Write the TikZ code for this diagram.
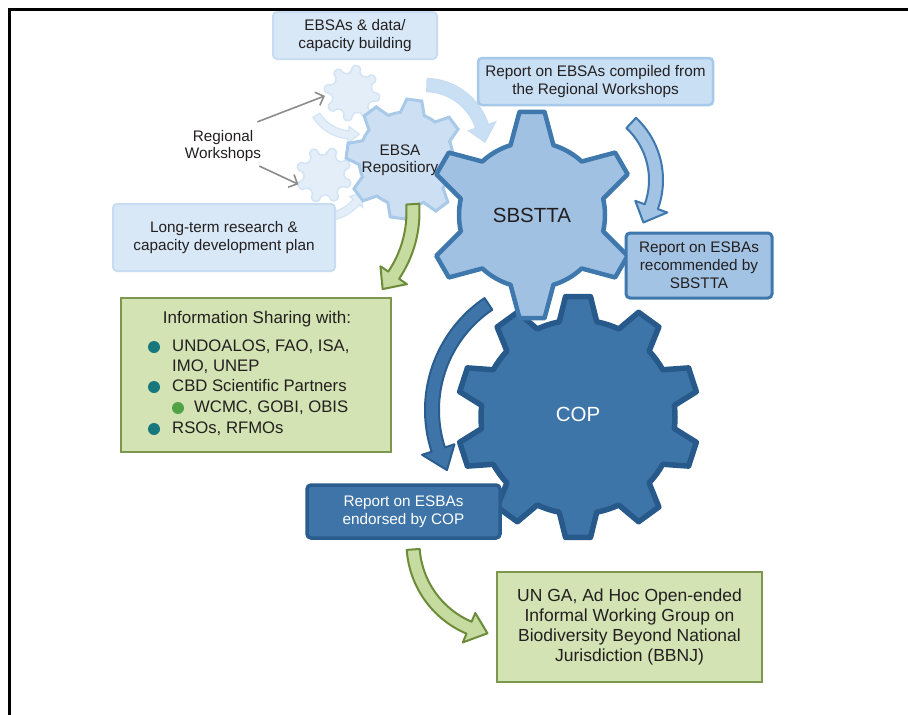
\documentclass[tikz,border=0pt]{standalone}
\usepackage{fontspec}
\setmainfont{Liberation Sans}
\usetikzlibrary{arrows.meta,positioning,shapes.geometric}
\definecolor{txt}{HTML}{231F20}
\definecolor{palefill}{HTML}{D8E8F7}
\definecolor{paleline}{HTML}{C8DDF2}
\definecolor{lightfill}{HTML}{C9DFF4}
\definecolor{lightline}{HTML}{A6C8E9}
\definecolor{midfill}{HTML}{A3C3E4}
\definecolor{midline}{HTML}{3F78AC}
\definecolor{darkfill}{HTML}{3E74A8}
\definecolor{darkline}{HTML}{2A5D8E}
\definecolor{greenfill}{HTML}{D3E3B3}
\definecolor{greenline}{HTML}{7D9750}
\definecolor{arrowgreen}{HTML}{C6DBA0}
\definecolor{arrowgreenline}{HTML}{6C8C3A}
\definecolor{gearfaint}{HTML}{E3EEF9}
\definecolor{gearfaintline}{HTML}{D3E4F5}
\definecolor{ebsafill}{HTML}{CDE0F3}
\definecolor{ebsaline}{HTML}{A8C9E8}
\definecolor{sbsttafill}{HTML}{A0C1E2}
\definecolor{sbsttaline}{HTML}{3F78AD}
\definecolor{copfill}{HTML}{3E75A9}
\definecolor{copline}{HTML}{275A8B}
\definecolor{bullteal}{HTML}{16787C}
\definecolor{bullgreen}{HTML}{4FA346}
\definecolor{arrowgray}{HTML}{8C8C8C}

% gear: centre, teeth, inner r, outer r, first tooth, half base, half tip, style
\newcommand{\gearshape}[8]{%
  \pgfmathsetmacro\gstep{360/#2}
  \draw[#8, shift={#1}] ({#5-#6*\gstep}:#3)
    \foreach \k in {1,...,#2} {
      -- ({#5+(\k-1)*\gstep-#7*\gstep}:#4)
      -- ({#5+(\k-1)*\gstep+#7*\gstep}:#4)
      -- ({#5+(\k-1)*\gstep+#6*\gstep}:#3)
      arc[start angle={#5+(\k-1)*\gstep+#6*\gstep}, end angle={#5+\k*\gstep-#6*\gstep}, radius=#3]
    } -- cycle;}
% bent arrow: centre, radius, start, neck, tip, band, head, style
\newcommand{\bentarrow}[8]{%
  \draw[#8, shift={#1}] (#3:{#2+#6/2})
    arc[start angle=#3, end angle=#4, radius={#2+#6/2}]
    -- (#4:{#2+#7/2}) -- (#5:#2) -- (#4:{#2-#7/2}) -- (#4:{#2-#6/2})
    arc[start angle=#4, end angle=#3, radius={#2-#6/2}] -- cycle;}

\tikzset{
  boxbase/.style = {align=center, inner sep=0pt, text=txt, rounded corners=4pt,
                    font=\fontsize{15.3}{18}\selectfont},
  palebox/.style = {boxbase, fill=palefill, draw=paleline, line width=2pt},
  lightbox/.style = {boxbase, fill=lightfill, draw=lightline, line width=2.5pt},
  midbox/.style = {boxbase, fill=midfill, draw=midline, line width=3pt},
  darkbox/.style = {boxbase, fill=darkfill, draw=darkline, line width=3.5pt, text=white},
  greenbox/.style = {boxbase, rounded corners=0pt, fill=greenfill, draw=greenline,
                     line width=2pt, font=\fontsize{17.5}{20}\selectfont},
  plaintext/.style = {align=center, inner sep=0pt, text=txt,
                      font=\fontsize{15.3}{17.5}\selectfont},
  itemtext/.style = {anchor=mid west, inner sep=0pt, text=txt, yshift=-2pt,
                     font=\fontsize{16.7}{20}\selectfont},
  dot/.style = {circle, inner sep=0pt, minimum size=12, fill=bullteal},
  grayarr/.style = {draw=arrowgray, line width=1.6pt,
                    -{Straight Barb[length=7pt,width=14pt]}},
  faintgear/.style = {fill=gearfaint, draw=gearfaintline, line width=1.5pt, rounded corners=2pt},
  faintarr/.style = {fill=gearfaint, draw=gearfaintline, line width=1.2pt},
  palearr/.style = {fill=lightfill, draw=paleline, line width=1.5pt},
  bluearr/.style = {fill=midfill, draw=midline, line width=2pt, line join=round},
  darkarr/.style = {fill=darkfill, draw=darkline, line width=2pt, line join=round},
  greenarr/.style = {fill=arrowgreen, draw=arrowgreenline, line width=2pt, line join=round},
}

\begin{document}
\begin{tikzpicture}[x=1pt, y=-1pt]
\useasboundingbox (0,0) rectangle (908,715);
\draw[line width=3pt] (9,716) -- (9,9) -- (909,9);

% regional workshop gears
\node[circle, minimum size=54, inner sep=0pt] (g1) at (352,93) {};
\node[circle, minimum size=54, inner sep=0pt] (g2) at (324,175) {};
\gearshape{(g1)}{8}{20}{28}{-80}{0.3}{0.17}{faintgear}
\gearshape{(g2)}{8}{20}{28}{-70}{0.3}{0.17}{faintgear}
\bentarrow{(g1)}{42}{148}{95}{80}{8}{17}{faintarr}
\bentarrow{(g2)}{42}{82}{40}{25}{8}{17}{faintarr}

\node[palebox, minimum width=164, minimum height=47] (data) at (355,35.5)
  {EBSAs \& data/\\capacity building};
\node[palebox, minimum width=222, minimum height=67] (plan) at (224,237.5)
  {Long-term research \&\\capacity development plan};

\node[plaintext] (rw) at (223,146) {Regional\\Workshops};
\draw[grayarr] ([shift={(-4,-8)}]rw.north east) -- (g1.186);
\draw[grayarr] ([shift={(-2,4)}]rw.south east) -- (g2.200);

% EBSA repository
\bentarrow{(425,145)}{60}{-88}{-18}{-3}{13}{28}{palearr}
\coordinate (ebsa) at (406,159);
\gearshape{(ebsa)}{8}{47}{60}{-82}{0.33}{0.16}{fill=ebsafill, draw=ebsaline, line width=3pt}
\node[plaintext] (ebsatext) at (400,160) {EBSA\\Repositiory};
\bentarrow{(300,212)}{113}{-4}{34}{43}{13}{32}{greenarr}

% COP and SBSTTA
\coordinate (cop) at (578,417);
\gearshape{(cop)}{10}{97}{121}{90}{0.31}{0.165}{fill=copfill, draw=copline, line width=5.5pt, line join=round}
\coordinate (sbstta) at (532,215);
\gearshape{(sbstta)}{6}{73}{104}{90}{0.285}{0.115}{fill=sbsttafill, draw=sbsttaline, line width=4.5pt, line join=round}
\node[plaintext, font=\fontsize{20.5}{24}\selectfont] (sbsttatext) at (sbstta) {SBSTTA};
\node[plaintext, text=white, font=\fontsize{20.5}{24}\selectfont] (coptext) at (578,414) {COP};

\node[lightbox, minimum width=235, minimum height=47] (compiled) at (595.5,81.5)
  {Report on EBSAs compiled from\\the Regional Workshops};
\bentarrow{(578,180)}{78}{-47}{20}{33}{14}{34}{bluearr}
\node[midbox, minimum width=146, minimum height=65] (recommended) at (699,265.5)
  {Report on ESBAs\\recommended by\\SBSTTA};

\bentarrow{(560,410)}{128}{236}{162}{152}{14}{34}{darkarr}
\node[darkbox, minimum width=193, minimum height=53] (endorsed) at (403.5,511.5)
  {Report on ESBAs\\endorsed by COP};

% information sharing
\node[greenbox, minimum width=270, minimum height=154] (info) at (256,375) {};
\node[plaintext, font=\fontsize{17}{20}\selectfont] (ihead) at (257,319) {Information Sharing with:};
\node[itemtext] (i1) at (172,347) {UNDOALOS, FAO, ISA,};
\node[itemtext] (i2) at (172,367) {IMO, UNEP};
\node[itemtext] (i3) at (172,387) {CBD Scientific Partners};
\node[itemtext] (i4) at (194,408) {WCMC, GOBI, OBIS};
\node[itemtext] (i5) at (172,429) {RSOs, RFMOs};
\foreach \n/\y in {1/347,3/387,5/429}
  \node[dot] (b\n) at (154,\y) {};
\node[dot, fill=bullgreen] (b4) at (178,408) {};

% BBNJ
\bentarrow{(505,543)}{92}{176}{113}{101}{13}{32}{greenarr}
\node[greenbox, minimum width=265, minimum height=110] (bbnj) at (629.5,627)
  {UN GA, Ad Hoc Open-ended\\Informal Working Group on\\Biodiversity Beyond National\\Jurisdiction (BBNJ)};
\end{tikzpicture}
\end{document}
